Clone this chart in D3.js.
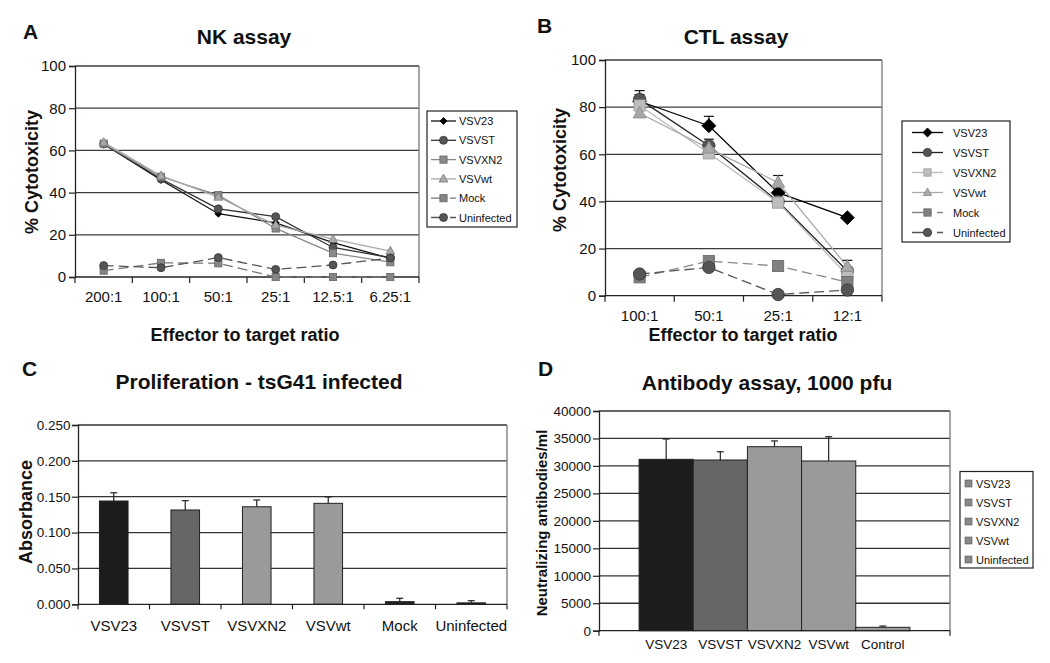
<!DOCTYPE html>
<html><head><meta charset="utf-8">
<script src="https://cdn.jsdelivr.net/npm/d3@7"></script>
<style>body{margin:0;background:#fff}svg{display:block}text{font-family:"Liberation Sans",Arial,sans-serif;fill:#111}</style>
</head><body><svg id="c" width="1050" height="663"></svg>
<script>
// ---------------- DATA ----------------
const seriesNames = ["VSV23","VSVST","VSVXN2","VSVwt","Mock","Uninfected"];

// Panel A: NK assay (% cytotoxicity)
const nkCats = ["200:1","100:1","50:1","25:1","12.5:1","6.25:1"];
const nkVSV23 = [63.0, 46.0, 30.0, 25.7, 16.3, 8.8];
const nkVSVST = [63.0, 46.5, 32.3, 28.6, 14.0, 9.2];
const nkVSVXN2 = [63.2, 47.5, 38.8, 23.0, 11.3, 7.0];
const nkVSVwt = [63.8, 48.0, 37.9, 24.6, 17.9, 12.3];
const nkMock = [3.0, 6.7, 6.5, 0, 0, 0];
const nkUninfected = [5.4, 4.4, 9.2, 3.6, 5.7, 9.0];

// Panel B: CTL assay (% cytotoxicity)
const ctlCats = ["100:1","50:1","25:1","12:1"];
const ctlVSV23 = [82.5, 72.1, 43.7, 33.1];
const ctlVSV23Err = [4.5, 4.0, 0, 0];
const ctlVSVST = [83.3, 63.6, 40.0, 10.5];
const ctlVSVSTErr = [2.0, 2.8, 0, 0];
const ctlVSVXN2 = [80.7, 60.4, 39.5, 8.7];
const ctlVSVwt = [77.4, 62.5, 48.0, 12.3];
const ctlVSVwtErr = [0, 0, 3.0, 2.7];
const ctlMock = [7.8, 14.7, 12.6, 5.8];
const ctlUninfected = [9.2, 12.0, 0.5, 2.4];

const pctTicks = [0, 20, 40, 60, 80, 100];

// Panel C: Proliferation (absorbance)
const prolifCats = ["VSV23","VSVST","VSVXN2","VSVwt","Mock","Uninfected"];
const prolifValues = [0.144, 0.1315, 0.136, 0.1408, 0.0037, 0.002];
const prolifErr = [0.0115, 0.013, 0.0095, 0.009, 0.0047, 0.003];
const prolifTicks = [0, 0.05, 0.1, 0.15, 0.2, 0.25];

// Panel D: Antibody assay (neutralizing antibodies/ml)
const abCats = ["VSV23","VSVST","VSVXN2","VSVwt","Control"];
const abValues = [31200, 31080, 33500, 30900, 620];
const abErr = [3700, 1500, 1050, 4420, 230];
const abLegend = ["VSV23","VSVST","VSVXN2","VSVwt","Uninfected"];
const abTicks = [0,5000,10000,15000,20000,25000,30000,35000,40000];

// ---------------- DRAWING ----------------
const svg = d3.select("#c");
svg.append("rect").attr("width",1050).attr("height",663).attr("fill","#fff");

function label(x, y, s, size, opts = {}) {
  const t = svg.append("text").attr("x", x).attr("y", y).text(s)
    .attr("font-size", size).attr("font-weight", opts.bold ? "bold" : "normal")
    .attr("text-anchor", opts.anchor || "start");
  if (opts.rotate) t.attr("transform", `rotate(-90,${x},${y})`).attr("dy", "0.35em");
  return t;
}

function marker(g, type, cx, cy, r, fill, stroke) {
  let p;
  if (type === "circle") {
    p = g.append("circle").attr("cx", cx).attr("cy", cy).attr("r", r);
  } else if (type === "square") {
    p = g.append("rect").attr("x", cx - r).attr("y", cy - r).attr("width", 2 * r).attr("height", 2 * r);
  } else if (type === "diamond") {
    p = g.append("path").attr("d", `M${cx},${cy - r}L${cx + r},${cy}L${cx},${cy + r}L${cx - r},${cy}Z`);
  } else {
    const h = r * 1.8;
    p = g.append("path").attr("d", `M${cx},${cy - h * 0.6}L${cx + r},${cy + h * 0.4}L${cx - r},${cy + h * 0.4}Z`);
  }
  p.attr("fill", fill).attr("stroke", stroke).attr("stroke-width", 0.8);
}

function linePanel(cfg) {
  const x = d3.scaleBand().domain(cfg.cats).range([cfg.x0, cfg.x1]);
  const y = d3.scaleLinear().domain([0, 100]).range([cfg.yb, cfg.yt]);
  const g = svg.append("g");
  g.selectAll("line.grid").data(pctTicks.filter(v => v > 0)).join("line")
    .attr("x1", cfg.x0).attr("x2", cfg.x1).attr("y1", d => y(d)).attr("y2", d => y(d))
    .attr("stroke", "#3c3c3c").attr("stroke-width", 1.3);
  g.append("line").attr("x1", cfg.x1).attr("x2", cfg.x1).attr("y1", cfg.yt).attr("y2", cfg.yb)
    .attr("stroke", "#777").attr("stroke-width", 1.3);
  const ya = g.append("g").attr("transform", `translate(${cfg.x0},0)`)
    .call(d3.axisLeft(y).tickValues(pctTicks).tickSize(6).tickPadding(3).tickFormat(d3.format("d")));
  ya.select(".domain").attr("stroke", "#222").attr("stroke-width", 1.3);
  ya.selectAll(".tick line").attr("stroke", "#222").attr("stroke-width", 1.2);
  ya.selectAll(".tick text").attr("font-size", 15).attr("font-family", "Liberation Sans, Arial, sans-serif").attr("fill", "#111");
  g.append("line").attr("x1", cfg.x0).attr("x2", cfg.x1).attr("y1", cfg.yb).attr("y2", cfg.yb)
    .attr("stroke", "#222").attr("stroke-width", 1.3);
  const bounds = cfg.cats.map(c => x(c)).concat([cfg.x1]);
  g.selectAll("line.xt").data(bounds).join("line")
    .attr("x1", d => d).attr("x2", d => d).attr("y1", cfg.yb).attr("y2", cfg.yb + 6)
    .attr("stroke", "#222").attr("stroke-width", 1.2);
  const xa = g.append("g").attr("transform", `translate(0,${cfg.yb})`)
    .call(d3.axisBottom(x).tickSize(0).tickPadding(cfg.xPad));
  xa.select(".domain").remove();
  xa.selectAll(".tick text").attr("font-size", 15).attr("font-family", "Liberation Sans, Arial, sans-serif").attr("fill", "#111");
  const cx = c => x(c) + x.bandwidth() / 2;
  cfg.series.forEach(s => {
    g.append("path").datum(s.values)
      .attr("d", d3.line().x((d, i) => cx(cfg.cats[i])).y(d => y(d)))
      .attr("fill", "none").attr("stroke", s.line).attr("stroke-width", s.lw || 1.3)
      .attr("stroke-dasharray", s.dash ? "10,5" : null);
  });
  cfg.series.forEach(s => {
    if (!s.err) return;
    s.values.forEach((v, i) => {
      if (!s.err[i]) return;
      const xx = cx(cfg.cats[i]);
      g.append("line").attr("x1", xx).attr("x2", xx).attr("y1", y(v)).attr("y2", y(v + s.err[i])).attr("stroke", "#111").attr("stroke-width", 1.2);
      g.append("line").attr("x1", xx - 5).attr("x2", xx + 5).attr("y1", y(v + s.err[i])).attr("y2", y(v + s.err[i])).attr("stroke", "#111").attr("stroke-width", 1.2);
    });
  });
  cfg.series.forEach(s => {
    s.values.forEach((v, i) => marker(g, s.shape, cx(cfg.cats[i]), y(v), s.r * cfg.mscale, s.fill, s.stroke));
  });
  const L = cfg.legend;
  g.append("rect").attr("x", L.x).attr("y", L.y).attr("width", L.w).attr("height", L.h)
    .attr("fill", "#fff").attr("stroke", "#222").attr("stroke-width", 1.2);
  cfg.series.forEach((s, i) => {
    const yy = L.y0 + i * L.dy;
    g.append("line").attr("x1", L.lx0).attr("x2", L.lx1).attr("y1", yy).attr("y2", yy)
      .attr("stroke", s.legendLine || s.line).attr("stroke-width", 1.3)
      .attr("stroke-dasharray", s.dash ? L.dash : null);
    marker(g, s.shape, (L.lx0 + L.lx1) / 2, yy, s.r * L.mscale, s.fill, s.stroke);
    label(L.tx, yy + 4, s.name, 11);
  });
}

// ---- Panel A ----
label(23, 39, "A", 21, {bold: true});
label(244, 44, "NK assay", 21, {bold: true, anchor: "middle"});
label(32, 172, "% Cytotoxicity", 18, {bold: true, anchor: "middle", rotate: true});
label(245, 341, "Effector to target ratio", 18, {bold: true, anchor: "middle"});
linePanel({
  cats: nkCats, x0: 75, x1: 419, yt: 66, yb: 277, xPad: 14, mscale: 1,
  series: [
    {name: seriesNames[0], values: nkVSV23, shape: "diamond", r: 3.5, fill: "#000", stroke: "#000", line: "#111"},
    {name: seriesNames[1], values: nkVSVST, shape: "circle", r: 4, fill: "#555", stroke: "#333", line: "#333"},
    {name: seriesNames[2], values: nkVSVXN2, shape: "square", r: 3.6, fill: "#8a8a8a", stroke: "#666", line: "#888"},
    {name: seriesNames[3], values: nkVSVwt, shape: "triangle", r: 4.4, fill: "#aaa", stroke: "#777", line: "#aaa"},
    {name: seriesNames[4], values: nkMock, shape: "square", r: 3.6, fill: "#858585", stroke: "#666", line: "#777", dash: true},
    {name: seriesNames[5], values: nkUninfected, shape: "circle", r: 4, fill: "#555", stroke: "#333", line: "#555", dash: true}
  ],
  legend: {x: 427, y: 111, w: 90, h: 116, y0: 121, dy: 19.3, lx0: 431, lx1: 456, tx: 459, mscale: 1, dash: "15,4,6"}
});

// ---- Panel B ----
label(537, 33, "B", 21, {bold: true});
label(736, 44, "CTL assay", 21, {bold: true, anchor: "middle"});
label(560, 170, "% Cytotoxicity", 18, {bold: true, anchor: "middle", rotate: true});
label(743, 341, "Effector to target ratio", 18, {bold: true, anchor: "middle"});
linePanel({
  cats: ctlCats, x0: 605, x1: 882, yt: 60, yb: 295.7, xPad: 15, mscale: 1,
  series: [
    {name: seriesNames[0], values: ctlVSV23, err: ctlVSV23Err, shape: "diamond", r: 7, fill: "#000", stroke: "#000", line: "#000"},
    {name: seriesNames[1], values: ctlVSVST, err: ctlVSVSTErr, shape: "circle", r: 6.2, fill: "#555", stroke: "#333", line: "#222"},
    {name: seriesNames[2], values: ctlVSVXN2, shape: "square", r: 5.6, fill: "#bdbdbd", stroke: "#999", line: "#bbb"},
    {name: seriesNames[3], values: ctlVSVwt, err: ctlVSVwtErr, shape: "triangle", r: 6.5, fill: "#a8a8a8", stroke: "#888", line: "#aaa"},
    {name: seriesNames[4], values: ctlMock, shape: "square", r: 5.6, fill: "#808080", stroke: "#666", line: "#888", dash: true},
    {name: seriesNames[5], values: ctlUninfected, shape: "circle", r: 6.2, fill: "#555", stroke: "#333", line: "#555", dash: true}
  ],
  legend: {x: 902, y: 121, w: 108, h: 121, y0: 132.5, dy: 20, lx0: 912, lx1: 943, tx: 953, mscale: 0.65, dash: "20,5"}
});

// ---- Bar panels ----
function barPanel(cfg) {
  const y = d3.scaleLinear().domain([0, cfg.max]).range([cfg.yb, cfg.yt]);
  const x = d3.scaleBand().domain(cfg.cats).range([cfg.x0, cfg.x1]).paddingInner(cfg.pi).paddingOuter(cfg.po);
  const g = svg.append("g");
  g.selectAll("line.grid").data(cfg.ticks.filter(v => v > 0)).join("line")
    .attr("x1", cfg.x0).attr("x2", cfg.x1).attr("y1", d => y(d)).attr("y2", d => y(d))
    .attr("stroke", "#333").attr("stroke-width", 1.3);
  g.append("line").attr("x1", cfg.x1).attr("x2", cfg.x1).attr("y1", cfg.yt).attr("y2", cfg.yb)
    .attr("stroke", "#777").attr("stroke-width", 1.3);
  const ya = g.append("g").attr("transform", `translate(${cfg.x0},0)`)
    .call(d3.axisLeft(y).tickValues(cfg.ticks).tickSize(6).tickPadding(cfg.yPad).tickFormat(cfg.fmt));
  ya.select(".domain").attr("stroke", "#222").attr("stroke-width", 1.3);
  ya.selectAll(".tick line").attr("stroke", "#222").attr("stroke-width", 1.2);
  ya.selectAll(".tick text").attr("font-size", 13.5).attr("font-family", "Liberation Sans, Arial, sans-serif").attr("fill", "#111");
  g.selectAll("rect.bar").data(cfg.values).join("rect")
    .attr("x", (d, i) => x(cfg.cats[i])).attr("width", x.bandwidth())
    .attr("y", d => y(d)).attr("height", d => cfg.yb - y(d))
    .attr("fill", (d, i) => cfg.colors[i]).attr("stroke", "#222").attr("stroke-width", 1);
  cfg.values.forEach((v, i) => {
    const xx = x(cfg.cats[i]) + x.bandwidth() / 2;
    g.append("line").attr("x1", xx).attr("x2", xx).attr("y1", y(v)).attr("y2", y(v + cfg.err[i])).attr("stroke", "#222").attr("stroke-width", 1.2);
    g.append("line").attr("x1", xx - 3.5).attr("x2", xx + 3.5).attr("y1", y(v + cfg.err[i])).attr("y2", y(v + cfg.err[i])).attr("stroke", "#222").attr("stroke-width", 1.2);
  });
  g.append("line").attr("x1", cfg.x0).attr("x2", cfg.x1).attr("y1", cfg.yb).attr("y2", cfg.yb)
    .attr("stroke", "#222").attr("stroke-width", 1.3);
  g.selectAll("line.xt").data(cfg.xticks(x)).join("line")
    .attr("x1", d => d).attr("x2", d => d).attr("y1", cfg.yb).attr("y2", cfg.yb + 5)
    .attr("stroke", "#222").attr("stroke-width", 1.2);
  const xa = g.append("g").attr("transform", `translate(0,${cfg.yb})`)
    .call(d3.axisBottom(x).tickSize(0).tickPadding(cfg.xPad));
  xa.select(".domain").remove();
  xa.selectAll(".tick text").attr("font-size", cfg.xFont).attr("font-family", "Liberation Sans, Arial, sans-serif").attr("fill", "#111");
  return g;
}

// ---- Panel C ----
label(22, 376, "C", 21, {bold: true});
label(259, 389, "Proliferation - tsG41 infected", 21, {bold: true, anchor: "middle"});
label(26, 512, "Absorbance", 18, {bold: true, anchor: "middle", rotate: true});
barPanel({
  cats: prolifCats, values: prolifValues, err: prolifErr, ticks: prolifTicks, max: 0.25,
  fmt: d3.format(".3f"), x0: 78, x1: 507, yt: 425, yb: 604.3, pi: 0.6, po: 0.3, xPad: 16, yPad: 1.5, xFont: 15,
  colors: ["#1c1c1c", "#666", "#9a9a9a", "#9a9a9a", "#222", "#222"],
  xticks: x => prolifCats.map(c => x(c) - x.step() * 0.3).concat([507])
});

// ---- Panel D ----
label(538, 376, "D", 21, {bold: true});
label(767, 390, "Antibody assay, 1000 pfu", 21, {bold: true, anchor: "middle"});
label(542, 523, "Neutralizing antibodies/ml", 15, {bold: true, anchor: "middle", rotate: true});
const gD = barPanel({
  cats: abCats, values: abValues, err: abErr, ticks: abTicks, max: 40000,
  fmt: d3.format("d"), x0: 599, x1: 950, yt: 411, yb: 630.7, pi: 0, po: 0.74, xPad: 9, yPad: 2, xFont: 13.5,
  colors: ["#1c1c1c", "#666", "#9a9a9a", "#9a9a9a", "#9a9a9a"],
  xticks: x => [599, 950]
});
gD.append("rect").attr("x", 960).attr("y", 471.5).attr("width", 73).attr("height", 96.5)
  .attr("fill", "#fff").attr("stroke", "#222").attr("stroke-width", 1.2);
abLegend.forEach((n, i) => {
  const yy = 483.5 + i * 19;
  gD.append("rect").attr("x", 965).attr("y", yy - 3.5).attr("width", 7).attr("height", 7)
    .attr("fill", "#888").attr("stroke", "#555").attr("stroke-width", 0.6);
  label(976, yy + 4, n, 11);
});
</script></body></html>
